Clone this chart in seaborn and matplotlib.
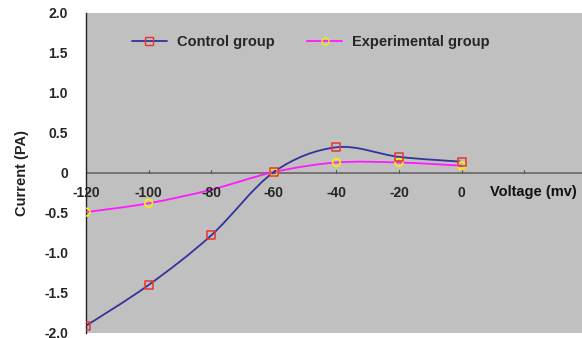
import numpy as np
import pandas as pd
import matplotlib
matplotlib.use("Agg")
import matplotlib.pyplot as plt
from matplotlib.path import Path
from matplotlib.patches import PathPatch
from matplotlib.lines import Line2D
import seaborn as sns

voltage = [-120, -100, -80, -60, -40, -20, 0]
control = [-1.91, -1.40, -0.78, 0.01, 0.32, 0.20, 0.14]
experimental = [-0.49, -0.38, -0.21, 0.01, 0.13, 0.13, 0.09]
exp_marker_shown = [True, True, False, True, True, True, True]
xticks = [-120, -100, -80, -60, -40, -20, 0, 20]
xtick_labels = ["-120", "-100", "-80", "-60", "-40", "-20", "0", ""]
yticks = [2.0, 1.5, 1.0, 0.5, 0, -0.5, -1.0, -1.5, -2.0]
ytick_labels = ["2.0", "1.5", "1.0", "0.5", "0", "-0.5", "-1.0", "-1.5", "-2.0"]

sns.set_style("white")
plt.rcParams['font.family'] = ['Liberation Sans', 'DejaVu Sans']

fig = plt.figure(figsize=(5.82, 3.38), dpi=100)
ax = fig.add_axes([0.148, 0.015, 0.852, 0.947])
ax.set_facecolor("#c0c0c0")

def smooth_path(xs, ys):
    pts = np.column_stack([xs, ys]).astype(float)
    n = len(pts)
    verts = [pts[0]]
    codes = [Path.MOVETO]
    for i in range(n - 1):
        p0 = pts[i - 1] if i > 0 else pts[i]
        p1 = pts[i]
        p2 = pts[i + 1]
        p3 = pts[i + 2] if i + 2 < n else pts[i + 1]
        c1 = p1 + (p2 - p0) / 6.0
        c2 = p2 - (p3 - p1) / 6.0
        verts += [c1, c2, p2]
        codes += [Path.CURVE4] * 3
    return Path(verts, codes)

ctrl_color = "#333399"
exp_color = "#ff1aff"
sq_color = "#e8342f"
circ_color = "#f5f000"

ax.add_patch(PathPatch(smooth_path(voltage, experimental), fill=False,
                       edgecolor=exp_color, lw=1.3, zorder=3))
ax.add_patch(PathPatch(smooth_path(voltage, control), fill=False,
                       edgecolor=ctrl_color, lw=1.3, zorder=3))

df_c = pd.DataFrame({"v": voltage, "c": control})
df_e = pd.DataFrame({"v": voltage, "c": experimental, "m": exp_marker_shown})
df_e = df_e[df_e["m"]]

sns.scatterplot(data=df_e, x="v", y="c", ax=ax, marker="o", s=30,
                facecolor="none", edgecolor=circ_color, linewidth=1.2, zorder=4)
sns.scatterplot(data=df_c, x="v", y="c", ax=ax, marker="s", s=34,
                facecolor="none", edgecolor=sq_color, linewidth=1.1, zorder=5)

ax.set_xlim(-120, 38.5)
ax.set_ylim(-2.0, 2.0)

for s in ["top", "right", "bottom"]:
    ax.spines[s].set_visible(False)
ax.spines["left"].set_color("#222222")
ax.spines["left"].set_linewidth(1.0)
ax.axhline(0, color="#666666", lw=1.2, zorder=2)

ax.set_yticks(yticks)
ax.set_yticklabels(ytick_labels, fontsize=10, fontweight="bold")
ax.tick_params(axis="y", direction="in", length=3, width=0.8, color="#444444", pad=13)

ax.set_xticks(xticks)
ax.set_xticklabels([])
ax.tick_params(axis="x", bottom=False)
for xv, lab in zip(xticks, xtick_labels):
    ax.plot([xv, xv], [0, 0.04], color="#555555", lw=0.8, zorder=2)
    if lab:
        ax.text(xv, -0.16, lab, ha="center", va="top", fontsize=10,
                fontweight="bold", zorder=6)

ax.text(9, -0.15, "Voltage (mv)", ha="left", va="top", fontsize=10.5,
        fontweight="bold", color="#111111")
ax.set_xlabel("")
ax.set_ylabel("Current (PA)", fontsize=10.5, fontweight="bold", color="#222222",
              labelpad=11)

handles = [
    Line2D([], [], color=ctrl_color, lw=1.3, marker="s", markersize=6,
           markerfacecolor="none", markeredgecolor=sq_color),
    Line2D([], [], color=exp_color, lw=1.3, marker="o", markersize=5,
           markerfacecolor="none", markeredgecolor=circ_color),
]
ax.legend(handles, ["Control group", "Experimental group"], ncol=2,
          loc="upper left", bbox_to_anchor=(0.066, 0.972), frameon=False,
          prop={"weight": "bold", "size": 10.5}, handlelength=2.4,
          columnspacing=2.2, handletextpad=0.7)

fig.savefig("out.png", dpi=100)
